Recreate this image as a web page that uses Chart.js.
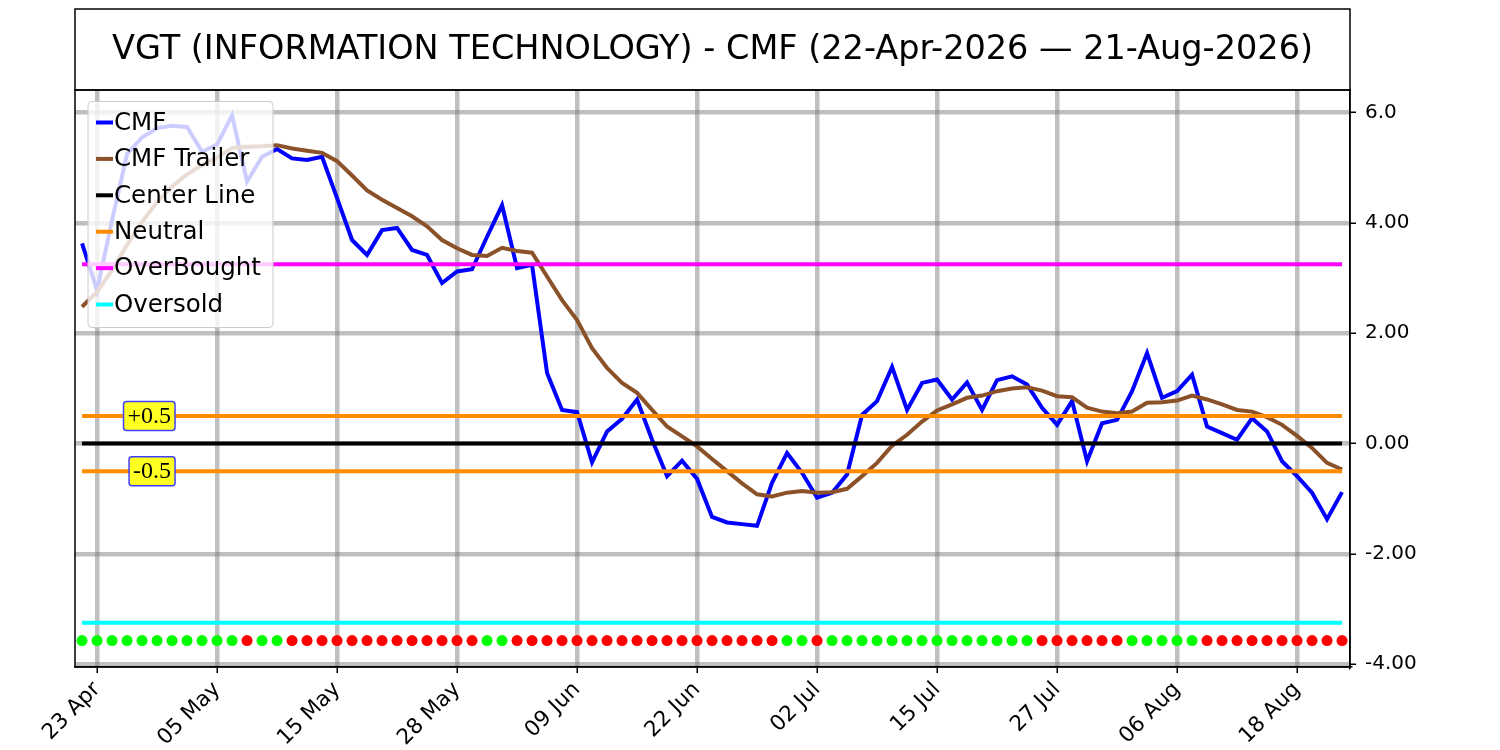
<!DOCTYPE html>
<html>
<head>
<meta charset="utf-8">
<script src="https://cdn.jsdelivr.net/npm/chart.js@4.4.1/dist/chart.umd.min.js"></script>
<style>
body{margin:0;background:#fff}
#wrap{width:1500px;height:750px}
</style>
</head>
<body>
<div id="wrap"><canvas id="cmfChart" width="1500" height="750"></canvas></div>
<script>
const chartTitle='VGT (INFORMATION TECHNOLOGY) - CMF (22-Apr-2026 \u2014 21-Aug-2026)';

// trading days
const dates=['22 Apr','23 Apr','24 Apr','27 Apr','28 Apr','29 Apr','30 Apr','01 May','04 May','05 May',
'06 May','07 May','08 May','11 May','12 May','13 May','14 May','15 May','18 May','19 May',
'20 May','21 May','22 May','26 May','27 May','28 May','29 May','01 Jun','02 Jun','03 Jun',
'04 Jun','05 Jun','08 Jun','09 Jun','10 Jun','11 Jun','12 Jun','15 Jun','16 Jun','17 Jun',
'18 Jun','22 Jun','23 Jun','24 Jun','25 Jun','26 Jun','29 Jun','30 Jun','01 Jul','02 Jul',
'06 Jul','07 Jul','08 Jul','09 Jul','10 Jul','13 Jul','14 Jul','15 Jul','16 Jul','17 Jul',
'20 Jul','21 Jul','22 Jul','23 Jul','24 Jul','27 Jul','28 Jul','29 Jul','30 Jul','31 Jul',
'03 Aug','04 Aug','05 Aug','06 Aug','07 Aug','10 Aug','11 Aug','12 Aug','13 Aug','14 Aug',
'17 Aug','18 Aug','19 Aug','20 Aug','21 Aug'];

const cmf=[3.63,2.78,4.05,5.25,5.55,5.72,5.76,5.74,5.29,5.42,
5.95,4.75,5.20,5.34,5.17,5.14,5.20,4.45,3.69,3.42,
3.87,3.91,3.51,3.42,2.91,3.12,3.16,3.75,4.32,3.18,
3.24,1.28,0.61,0.57,-0.34,0.22,0.45,0.80,0.07,-0.59,
-0.31,-0.64,-1.33,-1.43,-1.46,-1.49,-0.71,-0.17,-0.53,-0.98,
-0.89,-0.56,0.52,0.77,1.39,0.61,1.10,1.16,0.80,1.11,
0.61,1.15,1.22,1.07,0.65,0.34,0.77,-0.32,0.37,0.43,
0.95,1.64,0.83,0.95,1.25,0.31,0.19,0.07,0.46,0.22,
-0.32,-0.59,-0.89,-1.37,-0.88];

const trailer=[2.48,2.75,3.15,3.60,4.02,4.38,4.66,4.88,5.05,5.18,
5.36,5.38,5.39,5.41,5.35,5.31,5.27,5.12,4.86,4.59,
4.42,4.27,4.12,3.94,3.69,3.54,3.42,3.40,3.55,3.49,
3.46,3.03,2.60,2.24,1.73,1.37,1.10,0.92,0.61,0.31,
0.13,-0.05,-0.28,-0.50,-0.72,-0.92,-0.96,-0.89,-0.86,-0.89,
-0.88,-0.82,-0.59,-0.35,-0.04,0.16,0.40,0.60,0.71,0.83,
0.87,0.95,1.00,1.02,0.96,0.86,0.84,0.65,0.58,0.55,
0.58,0.74,0.75,0.78,0.87,0.80,0.71,0.61,0.58,0.48,
0.34,0.14,-0.08,-0.35,-0.47];

// 1 = green dot, 0 = red dot
const signal=[1,1,1,1,1,1,1,1,1,1,
1,0,1,1,0,0,0,0,0,0,
0,0,0,0,0,0,0,1,1,0,
0,0,0,0,0,0,0,0,0,0,
0,0,0,0,0,0,0,1,1,0,
1,1,1,1,1,1,1,1,1,1,
1,1,1,1,0,0,0,0,0,0,
1,1,1,1,1,0,0,0,0,0,
0,0,0,0,0];

const centerLevel=0;
const neutralLevel=0.5;
const overBought=3.25;
const overSold=-3.25;
const dotLevel=-3.57;

const yTicks=[-4,-2,0,2,4,6];
const xTickIdx=[1,9,17,25,33,41,49,57,65,73,81];

const legendNames=['CMF','CMF Trailer','Center Line','Neutral','OverBought','Oversold'];
const legendColors=['#0000ff','#8b5229','#000000','#ff8c00','#ff00ff','#00ffff'];

const frame={
  id:'frame',
  afterDraw(chart){
    const {ctx,chartArea:a,scales:{x,y}}=chart;
    ctx.save();
    ctx.strokeStyle='#000';ctx.lineWidth=1.5;
    ctx.strokeRect(a.left,a.top,a.right-a.left,a.bottom-a.top);
    ctx.strokeRect(a.left,9,a.right-a.left,a.top-9);
    ctx.fillStyle='#000';
    ctx.font='33.5px "DejaVu Sans"';
    ctx.textAlign='center';ctx.textBaseline='middle';
    ctx.fillText(chartTitle,(a.left+a.right)/2,(9+a.top)/2+1);

    // +0.5 / -0.5 tags
    ctx.font='24px "Liberation Serif"';
    ctx.textAlign='right';
    [[neutralLevel,'+0.5'],[-neutralLevel,'-0.5']].forEach(([v,t])=>{
      const px=x.getPixelForValue(6),py=y.getPixelForValue(v);
      const w=ctx.measureText(t).width+8;
      ctx.beginPath();ctx.roundRect(px+3-w,py-14.5,w,29,3);
      ctx.fillStyle='#ffff22';ctx.fill();
      ctx.strokeStyle='#3f3fff';ctx.lineWidth=1.5;ctx.stroke();
      ctx.fillStyle='#000';ctx.fillText(t,px-1,py+1);
    });

    // legend
    const lx=a.left+13,ly=a.top+11.5,lw=185,lh=226;
    ctx.beginPath();ctx.roundRect(lx,ly,lw,lh,4);
    ctx.fillStyle='rgba(255,255,255,0.8)';ctx.fill();
    ctx.strokeStyle='#cccccc';ctx.lineWidth=1;ctx.stroke();
    ctx.font='24.5px "DejaVu Sans"';
    ctx.textAlign='left';ctx.textBaseline='middle';
    legendNames.forEach((n,i)=>{
      const cy=ly+21+i*36.4;
      ctx.strokeStyle=legendColors[i];ctx.lineWidth=4;
      ctx.beginPath();ctx.moveTo(lx+8,cy);ctx.lineTo(lx+25,cy);ctx.stroke();
      ctx.fillStyle='#000';ctx.fillText(n,lx+26,cy+1);
    });
    ctx.restore();
  }
};

const gridOpts={color:'rgba(128,128,128,0.5)',lineWidth:4.5,tickColor:'#000',tickWidth:1.5,tickLength:6};

new Chart(document.getElementById('cmfChart'),{
  type:'line',
  data:{
    labels:dates.map((d,i)=>i),
    datasets:[
      {label:'CMF',data:cmf,borderColor:legendColors[0],borderWidth:4,order:7},
      {label:'CMF Trailer',data:trailer,borderColor:legendColors[1],borderWidth:4,order:6},
      {label:'Center Line',data:dates.map(()=>centerLevel),borderColor:legendColors[2],borderWidth:4,order:5},
      {label:'Neutral',data:dates.map(()=>neutralLevel),borderColor:legendColors[3],borderWidth:4,order:4},
      {label:'Neutral',data:dates.map(()=>-neutralLevel),borderColor:legendColors[3],borderWidth:4,order:4},
      {label:'OverBought',data:dates.map(()=>overBought),borderColor:legendColors[4],borderWidth:4,order:3},
      {label:'Oversold',data:dates.map(()=>overSold),borderColor:legendColors[5],borderWidth:4,order:2},
      {label:'Signal',data:dates.map(()=>dotLevel),showLine:false,pointRadius:5.5,
       pointBackgroundColor:signal.map(s=>s?'#00ff00':'#ff0000'),pointBorderWidth:0,order:1}
    ]
  },
  options:{
    responsive:false,
    animation:false,
    elements:{point:{radius:0,hoverRadius:0},line:{tension:0}},
    layout:{padding:{left:75,top:90,right:0,bottom:0}},
    plugins:{legend:{display:false},tooltip:{enabled:false},title:{display:false}},
    scales:{
      x:{
        type:'linear',min:-0.47,max:84.53,
        afterBuildTicks:s=>{s.ticks=xTickIdx.map(v=>({value:v}));},
        afterFit:s=>{s.height=83;},
        grid:gridOpts,
        border:{color:'#000',width:1.5},
        ticks:{autoSkip:false,minRotation:45,maxRotation:45,padding:4,color:'#000',
          font:{family:'DejaVu Sans',size:21.5},callback:v=>dates[v]}
      },
      y:{
        position:'right',min:-4.05,max:6.41,
        afterBuildTicks:s=>{s.ticks=yTicks.map(v=>({value:v}));},
        afterFit:s=>{s.width=150;},
        grid:gridOpts,
        border:{color:'#000',width:1.5},
        ticks:{padding:9,color:'#000',font:{family:'DejaVu Sans',size:20},
          callback:v=>v===6?'6.0':v.toFixed(2)}
      }
    }
  },
  plugins:[frame]
});
</script>
</body>
</html>
